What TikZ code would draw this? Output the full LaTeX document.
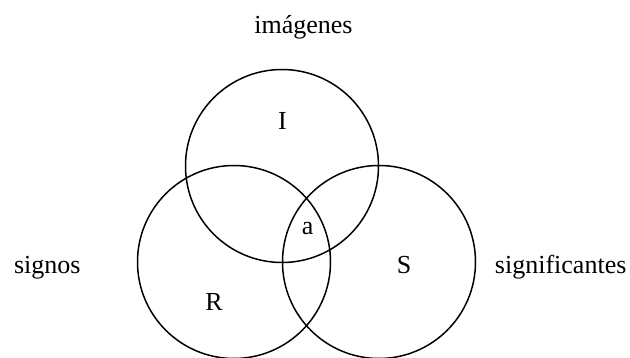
\documentclass[tikz,border=0pt]{standalone}
\usepackage{fontspec}
\setmainfont{Liberation Serif}
\begin{document}
\begin{tikzpicture}[x=1pt,y=-1pt,
  ring/.style={draw=black,line width=1.5pt},
  lbl/.style={anchor=base,inner sep=0pt,font=\fontsize{26}{30}\selectfont}]
\useasboundingbox (0,0) rectangle (630,358);
\clip (0,0) rectangle (630,358);
\draw[ring] (282,166) circle[radius=96.5];
\draw[ring] (234,262) circle[radius=96.5];
\draw[ring] (379,262) circle[radius=96.5];
\node[lbl] (im) at (303.5,33.3) {imágenes};
\node[lbl] (ii) at (282.5,129.3) {I};
\node[lbl] (aa) at (307.7,235) {a};
\node[lbl] (ss) at (404,274) {S};
\node[lbl] (rr) at (214,311) {R};
\node[lbl] (sg) at (47.3,273.3) {signos};
\node[lbl] (sf) at (560.7,273.3) {significantes};
\end{tikzpicture}
\end{document}
